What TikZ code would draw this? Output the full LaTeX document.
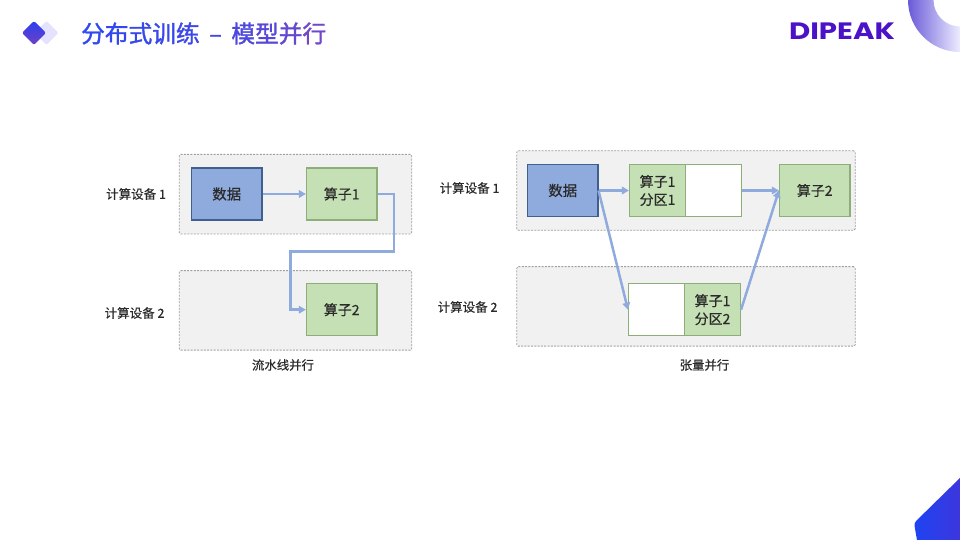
\documentclass[tikz,border=0pt]{standalone}
\usepackage{fontspec}
\setmainfont{Liberation Sans}
\newfontfamily\cjk[FakeBold=0.5]{Noto Sans CJK SC}
\newfontfamily\cjktitle[FakeBold=1.5]{Noto Sans CJK SC}
\newfontfamily\logofont[BoldFont=Poppins Bold]{Poppins}
\usetikzlibrary{arrows.meta,calc}
\definecolor{panelfill}{HTML}{F1F1F1}
\definecolor{paneledge}{HTML}{A0A0A0}
\definecolor{datafill}{HTML}{8FAADC}
\definecolor{dataedge}{HTML}{3F5F8F}
\definecolor{opfill}{HTML}{C5E0B4}
\definecolor{opedge}{HTML}{8DAE78}
\definecolor{flow}{HTML}{8FAADC}
\definecolor{ink}{HTML}{2A2A2A}
\definecolor{ringL}{HTML}{6A5AD8}
\definecolor{ringR}{HTML}{EDEDFF}
\definecolor{cornerA}{HTML}{1E44F2}
\definecolor{cornerB}{HTML}{3F35DC}
\definecolor{diaA}{HTML}{2A40F0}
\definecolor{diaB}{HTML}{7040C4}
\definecolor{diaL}{HTML}{E4E2FC}
\definecolor{logoink}{HTML}{4B12C8}
\definecolor{tA}{HTML}{2F48F0}
\definecolor{tB}{HTML}{7248C8}
\tikzset{
 x=1pt,y=-1pt,
 panel/.style={draw=paneledge,fill=panelfill,dash pattern=on 2pt off 1.3pt,line width=.9pt,rounded corners=1.5pt,inner sep=0pt,minimum width=#1,minimum height=79.5pt},
 databox/.style={draw=dataedge,fill=datafill,line width=1.1pt,minimum width=70.5pt,minimum height=52pt,inner sep=0pt,font=\cjk\fontsize{14.4}{15}\selectfont,text=ink},
 opbox/.style={draw=opedge,fill=opfill,line width=1.1pt,minimum width=70.5pt,minimum height=52pt,inner sep=0pt,font=\cjk\fontsize{14}{15}\selectfont,text=ink},
 halfop/.style={draw=opedge,fill=opfill,line width=1.1pt,minimum width=56pt,minimum height=52pt,inner sep=0pt,align=center,font=\cjk\fontsize{14}{18}\selectfont,text=ink},
 halfempty/.style={draw=opedge,fill=white,line width=1.1pt,minimum width=56pt,minimum height=52pt,inner sep=0pt},
 devlabel/.style={font=\cjk\fontsize{12.5}{14}\selectfont,text=ink,inner sep=0pt,anchor=west},
 caption/.style={font=\cjk\fontsize{12.4}{14}\selectfont,text=ink,inner sep=0pt},
 link/.style={draw=flow,line width=2.5pt,-{Triangle[length=7pt,width=7.5pt]},line join=miter},
}
\begin{document}
\begin{tikzpicture}
\useasboundingbox (0,0) rectangle (960,540);
% decorations
\shade[left color=ringL,right color=ringR] (908,0) arc[start angle=180,end angle=90,radius=52] -- (960,26.5) arc[start angle=90,end angle=180,radius=26.5] -- cycle;
\shade[left color=cornerA,right color=cornerB,rounded corners=3pt] (963,475) -- (963,543) -- (917.5,543) -- (914,523) -- cycle;
\fill[diaL,rounded corners=2pt] (46.5,21) -- (58.5,33) -- (46.5,45) -- (34.5,33) -- cycle;
\shade[top color=diaA,bottom color=diaB,rounded corners=2pt] (34,21) -- (46,33) -- (34,45) -- (22,33) -- cycle;
% title and logo
\node[inner sep=0pt,anchor=west] (title) at (81,33.5) {\cjktitle\fontsize{23.7}{26}\selectfont
 \textcolor{tA!100!tB}{分}\textcolor{tA!95!tB}{布}\textcolor{tA!90!tB}{式}\textcolor{tA!85!tB}{训}\textcolor{tA!80!tB}{练}\hspace{9.5pt}\textcolor{tA!70!tB}{–}\hspace{9.5pt}\textcolor{tA!55!tB}{模}\textcolor{tA!40!tB}{型}\textcolor{tA!20!tB}{并}\textcolor{tA!0!tB}{行}};
\node[inner sep=0pt,text=logoink,xscale=1.27,yscale=1.03] (logo) at (842,31.5) {\logofont\bfseries\fontsize{23}{24}\selectfont DIPEAK};
% panels, left
\node[panel=232.5pt] (lp1) at (295.5,194.2) {};
\node[panel=232.5pt] (lp2) at (295.5,310.4) {};
\node[databox] (ldata) at (226.7,194) {数据};
\node[opbox] (lop1) at (341.7,194) {算子1};
\node[opbox] (lop2) at (341.7,309.7) {算子2};
\node[devlabel] (ld1) at (106,194) {计算设备 1};
\node[devlabel] (ld2) at (104.5,313) {计算设备 2};
\node[caption] (lcap) at (283,365) {流水线并行};
\coordinate (la) at (394,194);
\coordinate (lb) at (394,251.5);
\coordinate (lc) at (290.5,251.5);
\coordinate (ld) at (290.5,309.7);
\draw[link] (ldata) -- (lop1);
\draw[link] (lop1.east) -- (la) -- (lb) -- (lc) -- (ld) -- (lop2.west);
% panels, right
\node[panel=338.5pt] (rp1) at (686,190.5) {};
\node[panel=338.5pt] (rp2) at (686,306.4) {};
\node[databox] (rdata) at (562.7,190.5) {数据};
\node[halfop] (rs1a) at (657.5,190.5) {算子1\\分区1};
\node[halfempty] (rs1b) at (713.5,190.5) {};
\node[opbox] (rop2) at (814.7,190.5) {算子2};
\node[halfempty] (rs2a) at (656.5,309.7) {};
\node[halfop] (rs2b) at (712.5,309.7) {算子1\\分区2};
\node[devlabel] (rd1) at (439.5,188) {计算设备 1};
\node[devlabel] (rd2) at (437.5,307) {计算设备 2};
\node[caption] (rcap) at (704.5,365) {张量并行};
\draw[link] (rdata) -- (rs1a);
\draw[link] (rs1b) -- (rop2);
\draw[link] (rdata.east) -- (rs2a.west);
\draw[link] (rs2b.east) -- (rop2.west);
\end{tikzpicture}
\end{document}
